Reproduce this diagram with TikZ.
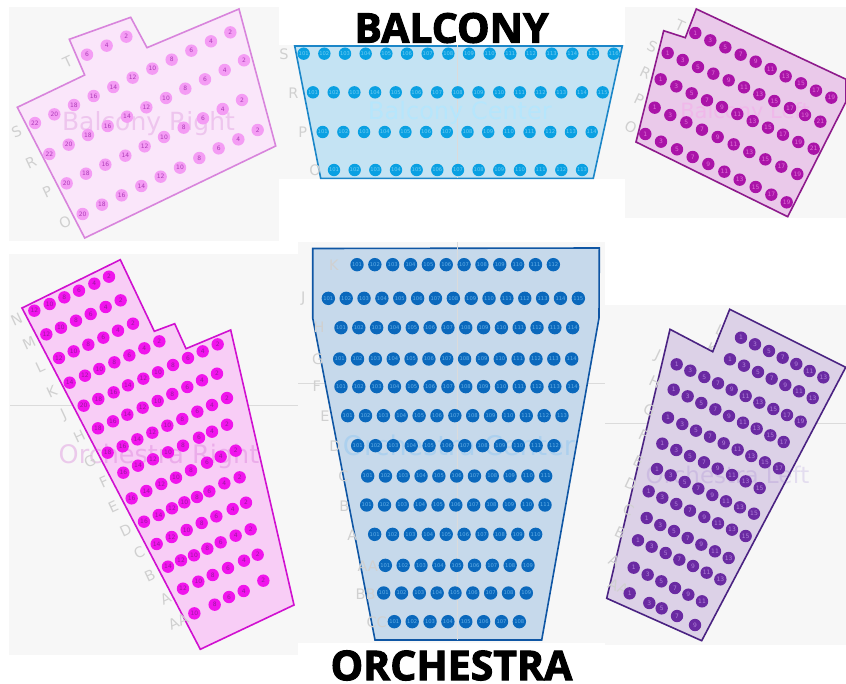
\documentclass[tikz,border=0pt]{standalone}
\usepackage{fontspec}
\setmainfont{DejaVu Sans}
\newfontfamily\titlefont[FakeBold=2.4]{Open Sans Bold}
\definecolor{panel}{HTML}{F7F7F7}
\definecolor{rowlab}{HTML}{D0D0D0}
\definecolor{brF}{HTML}{FAE6FA}\definecolor{brS}{HTML}{D884DC}\definecolor{brC}{HTML}{F49CF4}\definecolor{brT}{HTML}{AE3CB8}\definecolor{brN}{HTML}{D070D0}
\definecolor{bcF}{HTML}{C4E3F3}\definecolor{bcS}{HTML}{1B86C8}\definecolor{bcC}{HTML}{0AA0E2}\definecolor{bcT}{HTML}{70CDF2}\definecolor{bcN}{HTML}{B6E6FC}
\definecolor{blF}{HTML}{EAC9EA}\definecolor{blS}{HTML}{8E1A8C}\definecolor{blC}{HTML}{AA14A8}\definecolor{blT}{HTML}{E070D8}\definecolor{blN}{HTML}{F0B8EA}
\definecolor{orF}{HTML}{F8CDF6}\definecolor{orS}{HTML}{D010D0}\definecolor{orC}{HTML}{F014EC}\definecolor{orT}{HTML}{9A189E}\definecolor{orN}{HTML}{D060D0}
\definecolor{ocF}{HTML}{C6D9EB}\definecolor{ocS}{HTML}{0F56A4}\definecolor{ocC}{HTML}{0A68BC}\definecolor{ocT}{HTML}{62AEE6}\definecolor{ocN}{HTML}{ACD0EE}
\definecolor{olF}{HTML}{DCD1E7}\definecolor{olS}{HTML}{4A2282}\definecolor{olC}{HTML}{6A2AA2}\definecolor{olT}{HTML}{B080D8}\definecolor{olN}{HTML}{7040C0}
\newcommand{\seatrow}[5]{% prefix, colour key, ox, oy, list x/y/label (zoom coordinates)
  \foreach \px/\py/\lab in {#5}{
    \node[seatdot,fill=#2C,text=#2T,name=#1-\lab] at ({#3+\px/3},{#4+\py/3}) {\lab};
  }}
\newcommand{\linrow}[7]{% prefix, key, ox, oy, x0, x1, y ; count comes next
  \linrowb{#1}{#2}{#3}{#4}{#5}{#6}{#7}}
\newcommand{\linrowb}[8]{%
  \foreach \k in {1,...,#8}{
    \pgfmathtruncatemacro{\lab}{100+\k}
    \node[seatdot,threedigit,fill=#2C,text=#2T,name=#1-\lab] at ({#3+(#5+(\k-1)*(#6-#5)/(#8-1))/3},{#4+#7/3}) {\lab};
  }}
\tikzset{
  seatdot/.style={circle,inner sep=0pt,minimum size=12.4pt,font=\fontsize{6}{6}\selectfont},
  threedigit/.style={font=\fontsize{5.2}{5.2}\selectfont},
  bigseat/.style={minimum size=13.4pt},
  rowtag/.style={text=rowlab,inner sep=0pt,font=\fontsize{14.5}{14.5}\selectfont},
  section/.style={line width=1.6pt,line join=miter},
  secname/.style={inner sep=0pt,font=\fontsize{#1}{#1}\selectfont},
  head/.style={inner sep=0pt,text=black,font=\titlefont\fontsize{41}{41}\selectfont},
  gridline/.style={draw=black!14,line width=0.5pt}
}
\begin{document}
\begin{tikzpicture}[x=1pt,y=-1pt]
\useasboundingbox (0,0) rectangle (846,683);
\fill[white] (0,0) rectangle (846,683);
% panels
\fill[panel] (9,7) rectangle (279,241);
\fill[panel] (279,45) rectangle (625,179);
\fill[panel] (625,7) rectangle (846,218);
\fill[panel] (9,254) rectangle (298,655);
\fill[panel] (298,242) rectangle (605,643);
\fill[panel] (605,305) rectangle (846,645);
\draw[gridline] (10,405) -- (298,405);
\draw[gridline] (298,383) -- (605,383);
\draw[gridline] (605,423) -- (846,423);
% titles
\node[head] (tbalc) at (451.5,28) {BALCONY};
\node[head] (torch) at (451.5,665.5) {ORCHESTRA};
% the two labels the section outline mostly covers
\node[rowtag,rotate=-25,name=lol-L] at ({600+361/3},{300+90/3}) {L};
\node[rowtag,rotate=-25,name=lol-K] at ({600+336/3},{300+147/3}) {K};
% sections
\draw[section,draw=brS,fill=brF] (17.3,107.3) -- (84.7,75) -- (69.3,39.3) -- (130.7,17.3) -- (147,47.7) -- (239,9) -- (275.7,146) -- (84.7,238) -- cycle;
\draw[section,draw=bcS,fill=bcF] (294.7,46) -- (622.3,46) -- (593.3,178.3) -- (320.7,178.3) -- cycle;
\draw[section,draw=blS,fill=blF] (696.3,9) -- (846,79.3) -- (846,101.7) -- (787.7,216.7) -- (636,142) -- (663.7,30.7) -- (685.3,37.7) -- cycle;
\draw[section,draw=orS,fill=orF] (22,308) -- (120.3,259.7) -- (154.3,331.3) -- (174.7,323.7) -- (186,348.7) -- (230.7,330) -- (294,605) -- (200.3,649.3) -- cycle;
\draw[section,draw=ocS,fill=ocF] (312.7,248.5) -- (599.3,248) -- (599,318) -- (541.7,640) -- (375,640) -- (312.7,318) -- cycle;
\draw[section,draw=olS,fill=olF] (729.7,309.3) -- (845.7,367.3) -- (701.7,640.7) -- (606.7,598.3) -- (670,329.3) -- (712.7,351.7) -- cycle;
\draw[gridline] (457,45) -- (457,178);
\draw[gridline] (457,242) -- (457,640);
% section names
\node[secname=25,text=brN,text opacity=.28] (nbr) at (148.5,124) {Balcony Right};
\node[secname=24,text=bcN] (nbc) at (460,113) {Balcony Center};
\node[secname=21,text=blN] (nbl) at (745,113) {Balcony Left};
\node[secname=25.5,text=orN,text opacity=.3] (nor) at (159,456) {Orchestra Right};
\node[secname=27,text=ocN] (noc) at (459,445) {Orchestra Center};
\node[secname=23,text=olN,text opacity=.14] (nol) at (727.5,475) {Orchestra Left};
% row labels
\foreach \x/\y/\t in {203/187/T,50/396/S,93/487/R,142/575/P,195/668/O}
  \node[rowtag,rotate=25,name=lbr-\t] at ({\x/3},{\y/3}) {\t};
\foreach \x/\y/\t in {12/162/S,40/280/R,68/396/P,105/512/O}
  \node[rowtag,name=lbc-\t] at ({280+\x/3},{\y/3}) {\t};
\foreach \x/\y/\t in {180/76/T,97/140/S,76/218/R,57/300/P,32/382/O}
  \node[rowtag,rotate=-25,name=lbl-\t] at ({620+\x/3},{\y/3}) {\t};
\foreach \x/\y/\t in {50/208/N,87/278/M,120/352/L,155/425/K,192/495/J,238/560/H,270/635/G,312/695/F,340/770/E,377/842/D,418/907/C,450/977/B,497/1045/A,535/1115/AA}
  \node[rowtag,rotate=25,name=lor-\t] at ({\x/3},{250+\y/3}) {\t};
\foreach \x/\y/\t in {117/76/K,25/177/J,72/262/H,68/358/G,65/440/F,90/530/E,120/620/D}
  \node[rowtag,name=loc-\t] at ({295+\x/3},{240+\y/3}) {\t};
\foreach \x/\y/\t in {145/78/C,148/168/B,172/256/A,218/348/AA,212/432/BB,245/516/CC}
  \node[rowtag,name=loc-\t] at ({295+\x/3},{450+\y/3}) {\t};
\foreach \x/\y/\t in {172/168/J,165/245/H,148/330/G,130/405/F,115/485/E,92/553/D,85/630/C,60/697/B,42/783/A,55/860/AA}
  \node[rowtag,rotate=-25,name=lol-\t] at ({600+\x/3},{300+\y/3}) {\t};
% Balcony Right seats
\seatrow{brT}{br}{0}{0}{261/164/6,320/137/4,379/110/2}
\seatrow{brS}{br}{0}{0}{105/369/22,163/343/20,222/315/18,281/288/16,340/261/14,398/233/12,457/206/10,515/179/8,574/152/6,633/124/4,691/97/2}
\seatrow{brR}{br}{0}{0}{148/462/22,206/434/20,264/405/18,323/378/16,381/350/14,439/322/12,498/294/10,556/266/8,615/238/6,674/210/4,732/181/2}
\seatrow{brP}{br}{0}{0}{200/550/20,258/521/18,316/494/16,376/467/14,434/439/12,492/411/10,551/383/8,609/355/6,668/327/4,726/300/2}
\seatrow{brO}{br}{0}{0}{248/642/20,306/614/18,365/586/16,424/558/14,482/530/12,540/503/10,598/474/8,656/445/6,715/418/4,773/390/2}
% Balcony Center seats
\linrow{bcS}{bc}{280}{0}{71}{1001}{161}{16}
\linrow{bcR}{bc}{280}{0}{99}{968}{277}{15}
\linrow{bcP}{bc}{280}{0}{128}{935}{396}{14}
\linrow{bcO}{bc}{280}{0}{162}{906}{510}{13}
% Balcony Left seats
\seatrow{blT}{bl}{620}{0}{226/99/1,271/121/3,316/142/5,362/164/7,407/185/9,452/207/11,497/229/13,543/250/15,588/272/17,634/293/19}
\seatrow{blS}{bl}{620}{0}{143/159/1,188/180/3,234/201/5,280/221/7,326/241/9,372/262/11,418/283/13,463/303/15,510/324/17,555/345/19,601/365/21}
\seatrow{blR}{bl}{620}{0}{122/238/1,169/259/3,215/280/5,261/301/7,306/321/9,352/342/11,398/363/13,444/383/15,489/404/17,535/426/19,581/446/21}
\seatrow{blP}{bl}{620}{0}{104/323/1,151/345/3,199/367/5,246/389/7,293/411/9,341/433/11,388/456/13,436/478/15,484/500/17,532/522/19}
\seatrow{blO}{bl}{620}{0}{76/402/1,123/425/3,171/448/5,218/471/7,265/492/9,313/515/11,359/539/13,407/561/15,454/584/17,500/607/19}
% Orchestra Right seats
\seatrow{orN}{or}{0}{250}{103/182/12,149/162/10,193/142/8,237/122/6,283/101/4,327/80/2}
\seatrow{orM}{or}{0}{250}{139/253/12,183/233/10,228/212/8,272/192/6,317/171/4,362/151/2}
\seatrow{orL}{or}{0}{250}{177/324/12,221/304/10,265/284/8,310/263/6,354/242/4,399/221/2}
\seatrow{orK}{or}{0}{250}{209/398/14,255/377/12,298/357/10,343/337/8,388/316/6,433/295/4,478/274/2}
\seatrow{orJ}{or}{0}{250}{251/467/20,295/447/18,341/427/16,384/406/14,430/386/12,474/367/10,519/345/8,564/324/6,608/304/4,653/283/2}
\seatrow{orH}{or}{0}{250}{294/535/18,339/514/16,382/494/14,428/473/12,473/453/10,517/432/8,562/411/6,606/391/4,651/371/2}
\seatrow{orG}{or}{0}{250}{323/608/18,368/589/16,412/568/14,457/548/12,502/527/10,547/507/8,592/485/6,636/465/4,681/444/2}
\seatrow{orF}{or}{0}{450}{370/68/16,414/47/14,459/28/12,504/7/10,549/-13/8,597/-37/6,636/-55/4,681/-76/2}
\seatrow{orE}{or}{0}{450}{395/145/16,439/123/14,484/102/12,528/83/10,573/61/8,621/38/6,662/20/4,707/2/2}
\seatrow{orD}{or}{0}{450}{432/215/16,476/195/14,516/175/12,553/157/10,591/141/8,628/124/6,673/100/4,719/82/2}
\seatrow{orC}{or}{0}{450}{470/282/14,515/261/12,560/240/10,605/219/8,649/199/6,698/177/4,738/158/2}
\seatrow{orB}{or}{0}{450}{504/350/14,543/331/12,582/316/10,622/296/8,662/277/6,707/257/4,752/238/2}
\seatrow{orA}{or}{0}{450}{549/416/12,595/395/10,638/375/8,684/354/6,732/332/4,773/314/2}
\seatrow{orAA}{or}{0}{450}{583/490/10,644/464/8,687/441/6,731/423/4,790/392/2}
% Orchestra Center seats
\tikzset{threedigit/.append style={bigseat}}
\linrow{ocK}{oc}{295}{240}{186}{775}{74}{12}
\linrow{ocJ}{oc}{295}{240}{100}{850}{175}{15}
\linrow{ocH}{oc}{295}{240}{138}{833}{263}{14}
\linrow{ocG}{oc}{295}{240}{134}{830}{357}{14}
\linrow{ocF}{oc}{295}{240}{138}{833}{440}{14}
\linrow{ocE}{oc}{295}{240}{158}{801}{527}{13}
\linrow{ocD}{oc}{295}{240}{188}{777}{617}{12}
\linrow{ocC}{oc}{295}{450}{218}{752}{78}{11}
\linrow{ocB}{oc}{295}{450}{215}{750}{165}{11}
\linrow{ocA}{oc}{295}{450}{239}{722}{253}{10}
\linrow{ocAA}{oc}{295}{450}{271}{699}{346}{9}
\linrow{ocBB}{oc}{295}{450}{266}{694}{429}{9}
\linrow{ocCC}{oc}{295}{450}{298}{673}{515}{8}
% Orchestra Left seats
\seatrow{olA1}{ol}{600}{300}{423/113/1,465/133/3,507/153/5,548/173/7,589/192/9,629/213/11,670/232/13}
\seatrow{olA2}{ol}{600}{300}{390/178/1,432/197/3,474/216/5,515/236/7,556/255/9,597/274/11,638/294/13}
\seatrow{olJ}{ol}{600}{300}{230/193/1,271/212/3,313/231/5,354/250/7,395/269/9,437/288/11,478/308/13,520/327/15,561/345/17,602/365/19}
\seatrow{olH}{ol}{600}{300}{221/269/1,263/289/3,304/309/5,346/328/7,387/348/9,429/368/11,470/386/13,511/406/15,551/426/17}
\seatrow{olG}{ol}{600}{300}{204/353/1,247/372/3,288/392/5,330/410/7,371/430/9,413/449/11,454/468/13,495/487/15,537/505/17}
\seatrow{olF}{ol}{600}{300}{187/431/1,229/450/3,270/468/5,312/487/7,353/506/9,396/525/11,437/544/13,479/564/15}
\seatrow{olE}{ol}{600}{300}{171/507/1,212/526/3,254/546/5,295/566/7,337/585/9,378/604/11,420/622/13,462/641/15}
\seatrow{olD}{ol}{600}{300}{146/574/1,187/593/3,229/612/5,270/632/7,313/651/9,354/670/11,396/689/13,437/708/15}
\seatrow{olC}{ol}{600}{300}{140/654/1,181/675/3,222/693/5,263/714/7,304/734/9,345/754/11,386/774/13}
\seatrow{olB}{ol}{600}{300}{114/721/1,155/740/3,197/759/5,238/779/7,279/798/9,320/818/11,361/838/13}
\seatrow{olAx}{ol}{600}{300}{101/803/1,143/824/3,184/844/5,225/864/7,265/884/9,306/904/11}
\seatrow{olAA}{ol}{600}{300}{89/880/1,148/909/3,185/925/5,231/948/7,285/975/9}
\end{tikzpicture}
\end{document}
